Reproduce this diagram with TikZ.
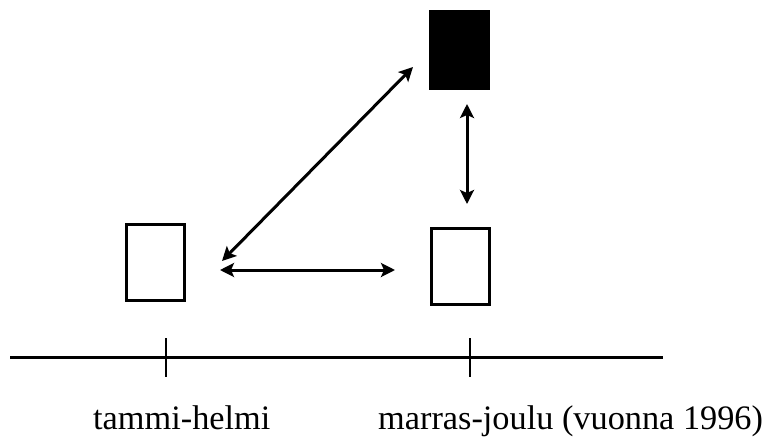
\documentclass[tikz,border=0pt]{standalone}
\usepackage{fontspec}
\setmainfont{Liberation Serif}
\usetikzlibrary{arrows.meta}
\begin{document}
\begin{tikzpicture}[x=1pt,y=-1pt,
  box/.style={draw=black,line width=3pt,minimum width=58pt,minimum height=76pt,inner sep=0pt,outer sep=0pt},
  darkbox/.style={fill=black,draw=black,line width=0.8pt,minimum width=60pt,minimum height=79pt,inner sep=0pt},
  twoway/.style={line width=3pt,{Stealth[length=14pt,width=14pt,inset=3pt]}-{Stealth[length=14pt,width=14pt,inset=3pt]}},
  axisline/.style={line width=3pt},
  tick/.style={line width=2.4pt},
  lbl/.style={anchor=base west,inner sep=0pt,font=\fontsize{34.3}{41}\selectfont}]
\useasboundingbox (0,0) rectangle (767,439);
\node[darkbox] (B) at (459,49.5) {};
\node[box] (L) at (155.5,262.5) {};
\node[box] (R) at (460,266) {};
% arrow end points
\coordinate (d1) at (222,261);
\coordinate (d2) at (413,67);
\coordinate (h1) at (220,270);
\coordinate (h2) at (395,270);
\coordinate (v1) at (467,104);
\coordinate (v2) at (467,204);
\draw[twoway] (d1) -- (d2);
\draw[twoway] (h1) -- (h2);
\draw[twoway] (v1) -- (v2);
% time axis
\coordinate (a1) at (10,357);
\coordinate (a2) at (663,357);
\draw[axisline] (a1) -- (a2);
\coordinate (t1a) at (166,338);
\coordinate (t1b) at (166,377);
\coordinate (t2a) at (470,338);
\coordinate (t2b) at (470,377);
\draw[tick] (t1a) -- (t1b);
\draw[tick] (t2a) -- (t2b);
\node[lbl] (T1) at (93,429) {tammi-helmi};
\node[lbl] (T2) at (378,429) {marras-joulu (vuonna 1996)};
\end{tikzpicture}
\end{document}
